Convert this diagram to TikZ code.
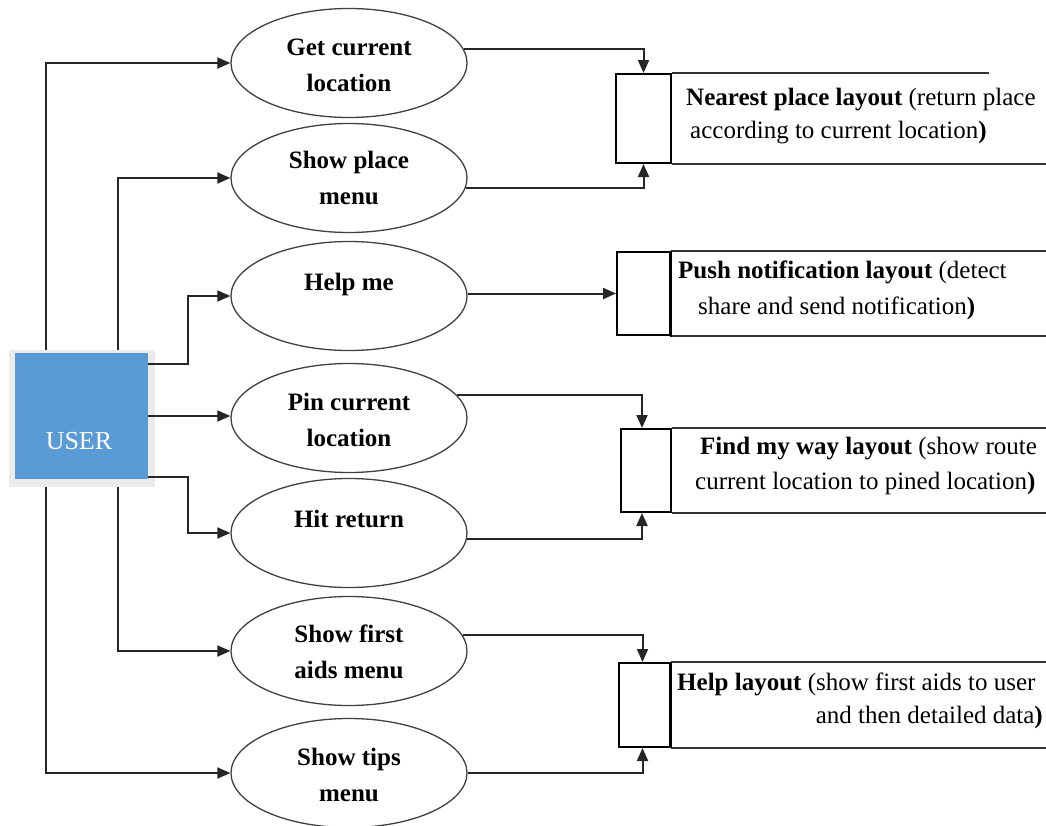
\documentclass[tikz,border=0pt]{standalone}
\usepackage{fontspec}
\setmainfont{LiberationSerif}[Extension=.ttf,UprightFont=*-Regular,BoldFont=*-Bold,ItalicFont=*-Italic,BoldItalicFont=*-BoldItalic]
\usetikzlibrary{shapes.geometric,arrows.meta,calc}
\definecolor{userblue}{HTML}{5B9BD5}
\definecolor{usergray}{HTML}{EBEBEB}
\tikzset{
  conn/.style={line width=2pt, black!85},
  arr/.style={conn, -{Triangle[length=13pt,width=11pt]}},
  usecase/.style={ellipse, draw=black!75, line width=1.3pt, minimum width=236pt, minimum height=109pt, inner sep=0pt},
  uctext/.style={font=\fontsize{25}{36}\selectfont\bfseries, align=center, inner sep=0pt},
  store/.style={rectangle, draw=black, line width=2pt, inner sep=0pt},
  storeline/.style={black!80, line width=1.6pt},
  desc/.style={font=\fontsize{25}{30}\selectfont, inner sep=0pt},
}
\begin{document}
\begin{tikzpicture}[x=1pt,y=-1pt]
\useasboundingbox (0,0) rectangle (1046,825);
% USER box
\node[rectangle, fill=usergray, minimum width=146pt, minimum height=137pt, inner sep=0pt] (ushadow) at (82,418.5) {};
\node[rectangle, fill=userblue, minimum width=133pt, minimum height=126pt, inner sep=0pt] (user) at (81.5,416) {};
\node[font=\fontsize{26}{30}\selectfont, text=white, inner sep=0pt] (utext) at (79,441) {USER};
\coordinate (va) at (46,0);
\coordinate (vb) at (118,0);
\coordinate (redge) at (1046,0);
% use cases
\node[usecase] (e1) at (349,63) {};
\node[usecase] (e2) at (349,178) {};
\node[usecase] (e3) at (349,296) {};
\node[usecase] (e4) at (349,418) {};
\node[usecase] (e5) at (349,533) {};
\node[usecase] (e6) at (349,651) {};
\node[usecase] (e7) at (349,773) {};
\node[uctext] (te1) at (349,65) {Get current\\location};
\node[uctext] (te2) at (349,178) {Show place\\menu};
\node[uctext] (te3) at (349,284) {Help me};
\node[uctext] (te4) at (349,420) {Pin current\\location};
\node[uctext] (te5) at (349,519) {Hit return};
\node[uctext] (te6) at (349,652) {Show first\\aids menu};
\node[uctext] (te7) at (349,775) {Show tips\\menu};
% stores
\node[store, minimum width=55pt, minimum height=89pt] (b1) at (643.5,118.5) {};
\node[store, minimum width=53pt, minimum height=83pt] (b2) at (643.5,293.5) {};
\node[store, minimum width=50pt, minimum height=83pt] (b3) at (646,470.5) {};
\node[store, minimum width=51pt, minimum height=84pt] (b4) at (644.5,705) {};
\draw[storeline] (b1.north east) -- ++(317,0);
\draw[storeline] (b1.south east) -- (b1.south east -| redge);
\draw[storeline] (b2.north east) -- (b2.north east -| redge);
\draw[storeline] (b2.south east) -- (b2.south east -| redge);
\draw[line width=2.4pt] (b2.north east) -- ++(0,86);
\draw[storeline] (b3.north east) -- (b3.north east -| redge);
\draw[storeline] (b3.south east) -- (b3.south east -| redge);
\draw[storeline] (b4.north east) -- (b4.north east -| redge);
\draw[storeline] (b4.south east) -- (b4.south east -| redge);
\draw[line width=2.4pt] (b4.north east) -- (b4.south east);
% descriptions
\node[desc, anchor=mid west] (d1a) at (686,103) {\textbf{Nearest place layout} (return place};
\node[desc, anchor=mid west] (d1b) at (690,136) {according to current location\textbf{)}};
\node[desc, anchor=mid west] (d2a) at (678,276) {\textbf{Push notification layout} (detect};
\node[desc, anchor=mid west] (d2b) at (698,312) {share and send notification\textbf{)}};
\node[desc, anchor=mid west] (d3a) at (700,452) {\textbf{Find my way layout} (show route};
\node[desc, anchor=mid west] (d3b) at (695,487) {current location to pined location\textbf{)}};
\node[desc, anchor=mid west] (d4a) at (677,688) {\textbf{Help layout} (show first aids to user};
\node[desc, anchor=mid east] (d4b) at (1043,721) {and then detailed data\textbf{)}};
% left connectors
\draw[arr] (ushadow.north -| va) |- (e1.west);
\draw[arr] (ushadow.north -| vb) |- (e2.west);
\draw[arr] ($(user.north east)+(0,11)$) -- ++(40,0) |- (e3.west);
\draw[arr] (user.east) -- (user.east -| e4.west);
\draw[arr] ($(user.south east)+(0,-2)$) -- ++(40,0) |- (e5.west);
\draw[arr] (ushadow.south -| vb) |- (e6.west);
\draw[arr] (ushadow.south -| va) |- (e7.west);
% right connectors
\draw[arr] (e1.7) -| (b1.north);
\draw[arr] (e2.-5) -| (b1.south);
\draw[arr] (e3.east |- b2.west) -- (b2.west);
\draw[arr] (e4.12) -| ($(b3.north)+(-4,0)$);
\draw[arr] (e5.-3) -| ($(b3.south)+(-4,0)$);
\draw[arr] (e6.8) -| ($(b4.north)+(-2,0)$);
\draw[arr] (e7.east) -| ($(b4.south)+(-2,0)$);
\end{tikzpicture}
\end{document}
